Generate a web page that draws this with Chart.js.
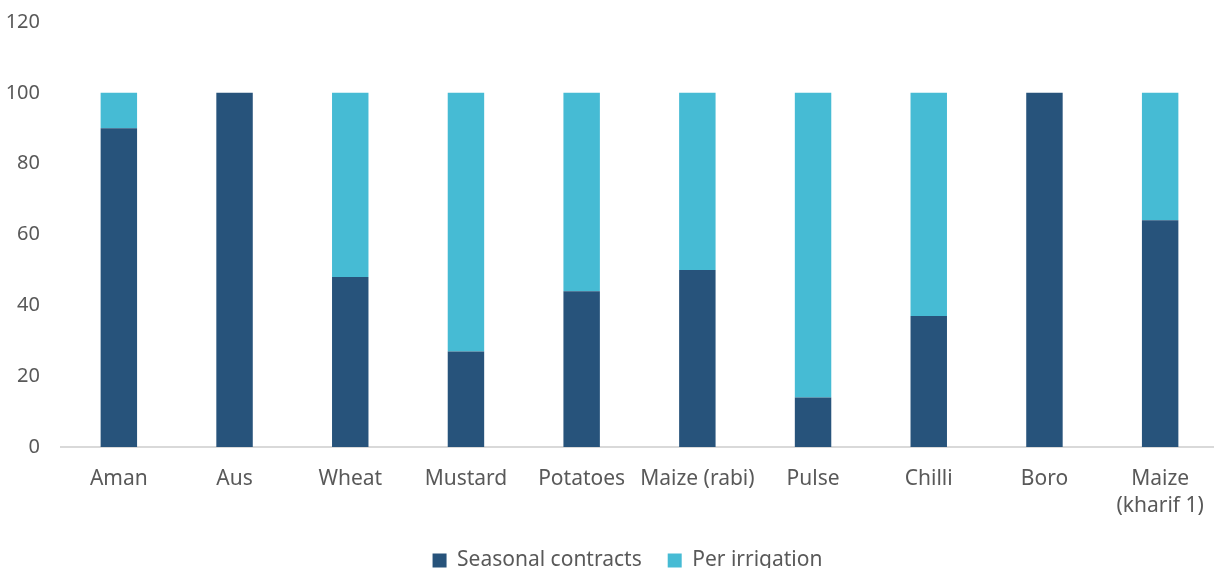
<!DOCTYPE html>
<html>
<head>
<meta charset="utf-8">
<script src="https://cdn.jsdelivr.net/npm/chart.js@4"></script>
<style>
  html, body { margin: 0; padding: 0; background: #fff; overflow: hidden; }
  #wrap { width: 1218px; height: 581px; position: relative; }
</style>
</head>
<body>
<div id="wrap"><canvas id="chart"></canvas></div>
<script>
// Crops and the share of each payment arrangement (%)
const crops = ['Aman', 'Aus', 'Wheat', 'Mustard', 'Potatoes', 'Maize (rabi)', 'Pulse', 'Chilli', 'Boro', ['Maize', '(kharif 1)']];
const seasonalContracts = [90, 100, 48, 27, 44, 50, 14, 37, 100, 64];
const perIrrigation = [10, 0, 52, 73, 56, 50, 86, 63, 0, 36];
const yTicks = [0, 20, 40, 60, 80, 100, 120];

const FONT = '"Noto Sans", sans-serif';
const TEXT = '#595959';

// nudge the legend a little to the left after layout
const legendShift = {
    id: 'legendShift',
    afterLayout(chart) {
        chart.legend.left -= 12;
        chart.legend.right -= 12;
    }
};

new Chart(document.getElementById('chart'), {
    type: 'bar',
    data: {
        labels: crops,
        datasets: [
            {
                label: 'Seasonal contracts',
                data: seasonalContracts,
                backgroundColor: '#27537B',
                barPercentage: 0.315,
                categoryPercentage: 1
            },
            {
                label: 'Per irrigation',
                data: perIrrigation,
                backgroundColor: '#46BBD4',
                barPercentage: 0.315,
                categoryPercentage: 1
            }
        ]
    },
    plugins: [legendShift],
    options: {
        responsive: true,
        maintainAspectRatio: false,
        animation: false,
        layout: { padding: 0 },
        plugins: {
            tooltip: { enabled: false },
            legend: {
                position: 'bottom',
                fullSize: false,
                labels: {
                    color: TEXT,
                    font: { family: FONT, size: 21 },
                    boxWidth: 14,
                    boxHeight: 14,
                    padding: 26
                }
            }
        },
        scales: {
            x: {
                stacked: true,
                // room for two-line labels above the legend, no side overhang
                afterFit: axis => {
                    axis.height = 77;
                    axis.paddingLeft = 0;
                    axis.paddingRight = 0;
                },
                grid: { display: false, drawTicks: false },
                border: { display: true, color: '#d9d9d9', width: 2 },
                ticks: {
                    color: TEXT,
                    font: { family: FONT, size: 21, lineHeight: 1.3 },
                    padding: 18,
                    maxRotation: 0,
                    autoSkip: false
                }
            },
            y: {
                stacked: true,
                min: 0,
                max: 120,
                afterBuildTicks: axis => { axis.ticks = yTicks.map(v => ({ value: v })); },
                // keep the axis a fixed width and the top label close to the edge
                afterFit: axis => {
                    axis.width = 61;
                    axis.paddingTop = 22;
                },
                grid: { display: false, drawTicks: false },
                border: { display: false },
                ticks: {
                    color: TEXT,
                    font: { family: FONT, size: 20 },
                    padding: 21
                }
            }
        }
    }
});
</script>
</body>
</html>
